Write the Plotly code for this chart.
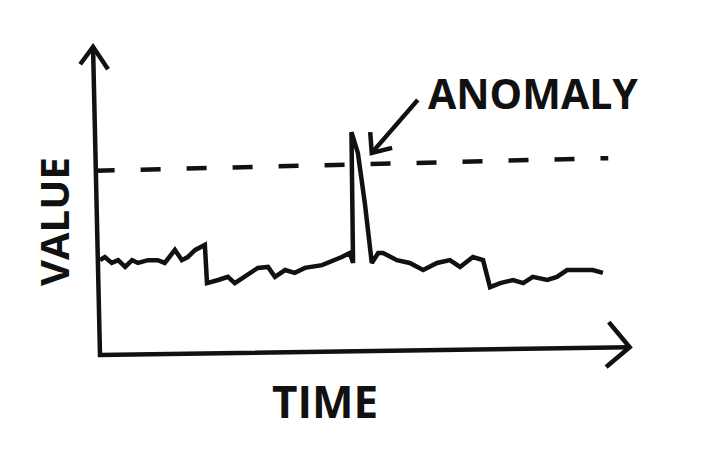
import plotly.graph_objects as go

# Series: time vs value (units: time 0-100, value 0-100)
time = [0, 0.9, 2.2, 3.4, 4.7, 6.0, 7.1, 9.0, 10.8, 12.1, 14.0, 15.3, 16.4, 17.8, 19.6,
        20.0, 22.1, 23.9, 25.2, 27.1, 29.5, 31.4, 32.7, 34.6, 36.4, 38.3, 41.5, 45.2, 46.7,
        47.3, 47.0, 48.2, 49.5, 50.8, 52.0, 52.9, 55.5, 57.9, 60.4, 63.0, 65.4, 67.3, 69.7,
        71.6, 72.9, 74.8, 77.2, 79.1, 80.9, 83.6, 85.4, 87.3, 89.2, 92.1, 94.0]
value = [30.6, 31.6, 29.7, 30.6, 28.4, 30.6, 29.7, 30.6, 30.6, 29.7, 33.9, 30.6, 31.6, 33.9, 35.5,
         23.2, 24.2, 25.2, 23.2, 25.2, 28.1, 28.4, 25.2, 27.4, 26.5, 28.1, 29.0, 31.6, 32.9,
         29.7, 71.9, 65.2, 49.0, 29.7, 32.9, 32.9, 30.6, 29.7, 27.4, 29.7, 30.6, 28.4, 31.6,
         30.6, 21.9, 23.2, 24.2, 23.2, 25.2, 24.2, 25.2, 27.4, 27.4, 27.4, 26.5]

# Threshold (dashed)
threshold_time = [-1, 95]
threshold_value = [59.4, 63.5]

# Labels
x_label = "TIME"
y_label = "VALUE"
anomaly_label = "ANOMALY"

INK = "#111111"
FONT = "Open Sans"
LW = 4.5

fig = go.Figure()

def sketch(xs, ys, **kw):
    fig.add_trace(go.Scatter(x=xs, y=ys, mode="lines",
                             line=dict(color=INK, width=LW, **kw),
                             hoverinfo="skip", showlegend=False))

# axes drawn as sketch lines
sketch([-1.3, 0, 99], [99.4, 0, 2.5])
sketch([-3.7, -1.3, 1.5], [93.8, 99.4, 92.2])      # y-axis arrowhead
sketch([95.1, 99, 94.6], [10.6, 2.5, -3.9])        # x-axis arrowhead

# threshold
sketch(threshold_time, threshold_value, dash="20px,26px")

# series
fig.add_trace(go.Scatter(x=time, y=value, mode="lines",
                         line=dict(color=INK, width=LW), showlegend=False))

# anomaly arrow
sketch([59.4, 50.8], [82.3, 65.2])
sketch([50.5, 50.8, 54.6], [71.9, 65.2, 66.8])

fig.add_annotation(x=81.0, y=84.5, text=anomaly_label, showarrow=False,
                   font=dict(family=FONT, size=41, color=INK, weight=700))
fig.add_annotation(x=42.1, y=-14.8, text=x_label, showarrow=False,
                   font=dict(family=FONT, size=44, color=INK, weight=700))
fig.add_annotation(x=-8.8, y=43.2, text=y_label, showarrow=False, textangle=-90,
                   font=dict(family=FONT, size=40, color=INK, weight=700))

fig.update_xaxes(range=[-18.69, 114.39], visible=False, fixedrange=True)
fig.update_yaxes(range=[-30.65, 114.52], visible=False, fixedrange=True)
fig.update_layout(width=712, height=450, margin=dict(l=0, r=0, t=0, b=0),
                  paper_bgcolor="white", plot_bgcolor="white", showlegend=False)

fig.write_html("out.html")
